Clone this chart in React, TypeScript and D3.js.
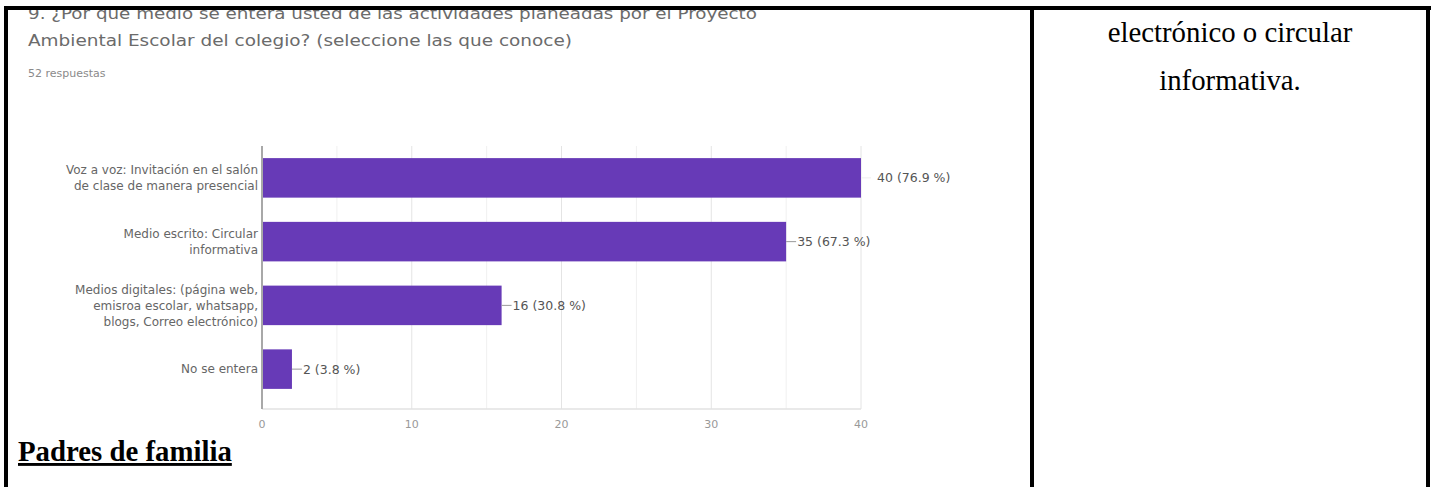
import React from "react";
import * as d3 from "d3";

const titleLines = [
  "9. ¿Por qué medio se entera usted de las actividades planeadas por el Proyecto",
  "Ambiental Escolar del colegio? (seleccione las que conoce)",
];
const responsesLabel = "52 respuestas";
const totalResponses = 52;
const categoryLines: string[][] = [
  ["Voz a voz: Invitación en el salón", "de clase de manera presencial"],
  ["Medio escrito: Circular", "informativa"],
  ["Medios digitales: (página web,", "emisroa escolar, whatsapp,", "blogs, Correo electrónico)"],
  ["No se entera"],
];
const values = [40, 35, 16, 2];
const ticks = [0, 10, 20, 30, 40];
const gridValues = [5, 10, 15, 20, 25, 30, 35, 40];
const rightCellLines = ["electrónico o circular", "informativa."];
const footerLabel = "Padres de familia";

export default function App() {
  const x = d3.scaleLinear().domain([0, 40]).range([262, 861]);
  const y = d3
    .scaleBand<number>()
    .domain(d3.range(values.length))
    .range([146, 401])
    .paddingInner(0.38)
    .paddingOuter(0.19);
  const plotTop = 146;
  const plotBottom = 409;
  const sans = "'DejaVu Sans', sans-serif";
  const serif = "'Liberation Serif', 'Times New Roman', serif";

  return (
    <div style={{ position: "absolute", left: 0, top: 0 }}>
      <svg width={1436} height={487} style={{ display: "block", background: "#fff" }}>
        <rect x={0} y={0} width={1436} height={487} fill="#fff" />
        {/* title */}
        <text x={28} y={19} fontFamily={sans} fontSize={15} fill="#6b6b6b" textLength={729} lengthAdjust="spacingAndGlyphs">
          {titleLines[0]}
        </text>
        <text x={28} y={46} fontFamily={sans} fontSize={15} fill="#6b6b6b" textLength={544} lengthAdjust="spacingAndGlyphs">
          {titleLines[1]}
        </text>
        <text x={28} y={77} fontFamily={sans} fontSize={11} fill="#8a8a8a">
          {responsesLabel}
        </text>
        {/* gridlines */}
        {gridValues.map((v) => (
          <line key={v} x1={x(v)} x2={x(v)} y1={plotTop} y2={plotBottom} stroke={v % 10 === 0 ? "#e4e4e4" : "#f0f0f0"} strokeWidth={1} />
        ))}
        <line x1={x(0)} x2={x(40)} y1={plotBottom} y2={plotBottom} stroke="#e2e2e2" strokeWidth={1.5} />
        {/* bars */}
        {values.map((v, i) => (
          <rect key={i} x={x(0)} y={y(i)} width={x(v) - x(0)} height={y.bandwidth()} fill="#673ab7" />
        ))}
        <line x1={x(0)} x2={x(0)} y1={plotTop} y2={plotBottom} stroke="#a8a8a8" strokeWidth={2} />
        {/* value labels */}
        {values.map((v, i) => {
          const cy = (y(i) as number) + y.bandwidth() / 2;
          const pct = ((v / totalResponses) * 100).toFixed(1);
          return (
            <g key={i}>
              <line x1={x(v)} x2={x(v) + 10} y1={cy} y2={cy} stroke={i === 0 ? "#eeeeee" : "#9a9a9a"} strokeWidth={1} />
              <text x={x(v) + (i === 0 ? 16 : 11)} y={cy} dy="0.35em" fontFamily={sans} fontSize={12.5} fill="#555">
                {`${v} (${pct} %)`}
              </text>
            </g>
          );
        })}
        {/* category labels */}
        {categoryLines.map((lines, i) => {
          const cy = (y(i) as number) + y.bandwidth() / 2;
          const lh = 16;
          const start = cy - ((lines.length - 1) * lh) / 2;
          return (
            <text key={i} textAnchor="end" fontFamily={sans} fontSize={12} fill="#666">
              {lines.map((l, j) => (
                <tspan key={j} x={258} y={start + j * lh} dy="0.35em">
                  {l}
                </tspan>
              ))}
            </text>
          );
        })}
        {/* x ticks */}
        {ticks.map((t) => (
          <text key={t} x={x(t)} y={428} textAnchor="middle" fontFamily={sans} fontSize={11} fill="#999">
            {t}
          </text>
        ))}
        {/* document text */}
        <text x={18} y={461} fontFamily={serif} fontSize={28.8} fontWeight="bold" fill="#000" textDecoration="underline">
          {footerLabel}
        </text>
        {rightCellLines.map((l, i) => (
          <text key={i} x={1230} y={42 + i * 48} textAnchor="middle" fontFamily={serif} fontSize={28.8} fill="#000">
            {l}
          </text>
        ))}
        {/* table borders */}
        <rect x={4} y={6} width={1427} height={4} fill="#000" />
        <rect x={4} y={6} width={4} height={481} fill="#000" />
        <rect x={1030} y={6} width={4} height={481} fill="#000" />
        <rect x={1426} y={6} width={4} height={481} fill="#000" />
      </svg>
    </div>
  );
}
